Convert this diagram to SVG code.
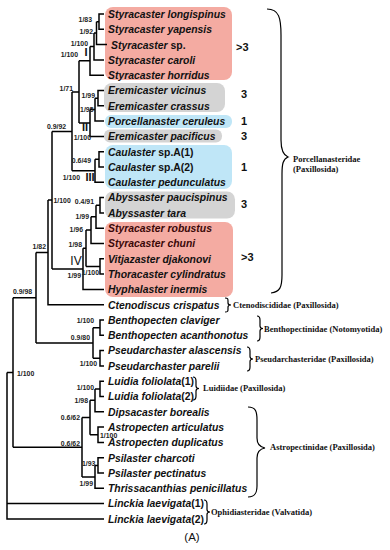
<svg xmlns="http://www.w3.org/2000/svg" width="390" height="550" viewBox="0 0 390 550">
<style>
.tx{font-family:"Liberation Sans",Arial,sans-serif;font-size:10.4px;font-weight:bold;font-style:italic;fill:#111}
.up{font-style:normal}
.sl{font-family:"Liberation Sans",Arial,sans-serif;font-size:6.9px;font-weight:bold;fill:#222}
.e{text-anchor:end}
.rn{font-family:"Liberation Sans",Arial,sans-serif;font-size:11px;font-weight:bold;fill:#111;text-anchor:middle}
.num{font-family:"Liberation Sans",Arial,sans-serif;font-size:11px;font-weight:bold;fill:#111}
.fam{font-family:"Liberation Serif","Times New Roman",serif;font-size:8.5px;font-weight:bold;fill:#111}
.ln{fill:none;stroke:#000;stroke-width:1.5}
.br{fill:none;stroke:#000;stroke-width:1.2}
.pk{fill:#F4ABA2}.gy{fill:#D4D4D4}.bl{fill:#BFE6F7}
</style>
<rect width="390" height="550" fill="#fff"/>
<g id="boxes">
<rect class="pk" x="105" y="7" width="127" height="73" rx="8"/>
<rect class="gy" x="104" y="83" width="121" height="29" rx="8"/>
<rect class="bl" x="105" y="115" width="127" height="13" rx="6"/>
<rect class="gy" x="104" y="129.5" width="118" height="13" rx="6"/>
<rect class="bl" x="105" y="145" width="127" height="44" rx="8"/>
<rect class="gy" x="105" y="191.5" width="130" height="27" rx="8"/>
<rect class="pk" x="105" y="222" width="128" height="75" rx="8"/>
</g>
<g id="connectors">
<path class="ln" d="M104,14 H99 V29.3 H104 M96.5,21.7 H99 M96.5,21.7 V44.6 H107 M94,33.1 H96.5 M94,33.1 V59.9 H104 M90,46.5 H94 M90,46.5 V75.2 H104 M79,60.8 H90
M104,90.5 H98 V105.8 H104 M95,98.2 H98 M95,98.2 V121.1 H104 M90,109.6 H95 M90,109.6 V136.4 H104 M79,123 H90 M79,60.8 V123 M72,91.9 H79
M104,151.7 H99 V167 H104 M95,159.3 H99 M95,159.3 V182.3 H104 M72,170.8 H95 M72,91.9 V170.8 M52,131.4 H72
M104,197.6 H100 V212.9 H104 M96,205.3 H100 M96,205.3 V228.2 H104 M91,216.7 H96 M91,216.7 V243.5 H104 M86,230.1 H91
M104,258.8 H100 V274.1 H104 M86,266.5 H100 M86,230.1 V266.5 M83,248.3 H86 M83,248.3 V289.4 H104 M52,268.9 H83
M52,131.4 V268.9 M48,200.1 H52 M48,200.1 V304.7 H104 M36,252.4 H48
M104,320 H100 V335.3 H104 M93,327.7 H100 M104,350.6 H100 V365.9 H104 M93,358.3 H100 M93,327.7 V358.3 M36,343 H93
M36,252.4 V343 M13,297.7 H36
M104,381.2 H100 V396.5 H104 M95,388.9 H100 M95,388.9 V411.8 H104 M90,400.3 H95
M104,427.1 H98 V442.4 H104 M90,434.8 H98 M90,400.3 V434.8 M82,417.6 H90
M104,457.7 H98 V473 H104 M95,465.4 H98 M95,465.4 V488.3 H104 M82,476.9 H95
M82,417.6 V476.9 M13,447.2 H82 M13,297.7 V447.2 M7,372.5 H13
M7,372.5 V518.9 H104 M7,503.6 H104"/>
</g>
<g id="support-labels">
<text class="sl e" x="92" y="21.5">1/83</text>
<text class="sl e" x="93" y="33.5">1/92</text>
<text class="sl e" x="88" y="45.5">1/100</text>
<text class="sl e" x="78" y="56.5">1/100</text>
<text class="sl e" x="73" y="90.5">1/71</text>
<text class="sl e" x="95" y="97.5">1/99</text>
<text class="sl e" x="93.5" y="111.5">1/95</text>
<text class="sl e" x="91" y="139.5">1/100</text>
<text class="sl" x="47" y="128.5">0.9/92</text>
<text class="sl e" x="91" y="162.5">0.6/49</text>
<text class="sl e" x="80" y="179.5">1/100</text>
<text class="sl" x="53.5" y="202.5">1/100</text>
<text class="sl e" x="94" y="203.5">0.4/91</text>
<text class="sl e" x="89" y="218.5">1/99</text>
<text class="sl e" x="83" y="231.5">1/96</text>
<text class="sl e" x="82" y="246.5">1/98</text>
<text class="sl e" x="99" y="274.5">1/100</text>
<text class="sl e" x="81" y="277.5">1/99</text>
<text class="sl e" x="46" y="248.5">1/82</text>
<text class="sl" x="13" y="293.5">0.9/98</text>
<text class="sl e" x="94" y="322.5">1/100</text>
<text class="sl e" x="90" y="339.5">0.9/80</text>
<text class="sl e" x="97" y="365.5">1/100</text>
<text class="sl" x="17" y="375.5">1/100</text>
<text class="sl e" x="94" y="389.5">1/100</text>
<text class="sl e" x="88" y="402.5">1/98</text>
<text class="sl e" x="80" y="419.5">0.6/62</text>
<text class="sl" x="100" y="437.5">1/100</text>
<text class="sl e" x="80" y="445.5">0.6/62</text>
<text class="sl" x="82" y="465.5">1/93</text>
<text class="sl e" x="93" y="485.5">1/99</text>
<text class="rn" x="86" y="56">I</text>
<text class="rn" x="85" y="131">II</text>
<text class="rn" x="90" y="181">III</text>
<text class="rn" x="76" y="265" style="font-size:12px;font-weight:normal">IV</text>
</g>
<g id="taxa">
<text class="tx" x="108" y="17.8">Styracaster longispinus</text>
<text class="tx" x="108" y="33.1">Styracaster yapensis</text>
<text class="tx" x="111" y="49">Styracaster <tspan class="up">sp.</tspan></text>
<text class="tx" x="108" y="63.7">Styracaster caroli</text>
<text class="tx" x="108" y="79">Styracaster horridus</text>
<text class="tx" x="108" y="94.3">Eremicaster vicinus</text>
<text class="tx" x="108" y="109.6">Eremicaster crassus</text>
<text class="tx" x="108" y="124.9">Porcellanaster ceruleus</text>
<text class="tx" x="108" y="140.2">Eremicaster pacificus</text>
<text class="tx" x="108" y="155.5">Caulaster <tspan class="up">sp.A(1)</tspan></text>
<text class="tx" x="108" y="170.8">Caulaster <tspan class="up">sp.A(2)</tspan></text>
<text class="tx" x="108" y="186.1">Caulaster pedunculatus</text>
<text class="tx" x="108" y="201.4">Abyssaster paucispinus</text>
<text class="tx" x="108" y="216.7">Abyssaster tara</text>
<text class="tx" x="108" y="232" style="fill:#3a0808">Styracaster robustus</text>
<text class="tx" x="108" y="247.3" style="fill:#3a0808">Styracaster chuni</text>
<text class="tx" x="108" y="262.6">Vitjazaster djakonovi</text>
<text class="tx" x="108" y="277.9">Thoracaster cylindratus</text>
<text class="tx" x="108" y="293.2">Hyphalaster inermis</text>
<text class="tx" x="108" y="308.5">Ctenodiscus crispatus</text>
<text class="tx" x="108" y="323.8">Benthopecten claviger</text>
<text class="tx" x="108" y="339.1">Benthopecten acanthonotus</text>
<text class="tx" x="108" y="354.4">Pseudarchaster alascensis</text>
<text class="tx" x="108" y="369.7">Pseudarchaster parelii</text>
<text class="tx" x="108" y="385">Luidia foliolata<tspan class="up">(1)</tspan></text>
<text class="tx" x="108" y="400.3">Luidia foliolata<tspan class="up">(2)</tspan></text>
<text class="tx" x="108" y="415.6">Dipsacaster borealis</text>
<text class="tx" x="108" y="430.9">Astropecten articulatus</text>
<text class="tx" x="108" y="446.2">Astropecten duplicatus</text>
<text class="tx" x="108" y="461.5">Psilaster charcoti</text>
<text class="tx" x="108" y="476.8">Psilaster pectinatus</text>
<text class="tx" x="108" y="492.1">Thrissacanthias penicillatus</text>
<text class="tx" x="108" y="507.4">Linckia laevigata<tspan class="up">(1)</tspan></text>
<text class="tx" x="108" y="522.7">Linckia laevigata<tspan class="up">(2)</tspan></text>
</g>
<g id="counts">
<text class="num" x="236" y="51">&gt;3</text>
<text class="num" x="241" y="98">3</text>
<text class="num" x="241" y="125">1</text>
<text class="num" x="241" y="140">3</text>
<text class="num" x="241" y="171">1</text>
<text class="num" x="241" y="208">3</text>
<text class="num" x="241" y="261">&gt;3</text>
</g>
<g id="families">
<path class="br" d="M267,9 C279,9 281,18 281,35 L281,140 C281,150 283,155 288,157 C283,159 282,164 282,174 L282,275 C282,287 280,292 271,293"/>
<text class="fam" x="293" y="162">Porcellanasteridae</text>
<text class="fam" x="293" y="172">(Paxillosida)</text>
<path class="br" d="M225,298 C228,298 228,299 228,301 L228,303 C228,304.5 229,305 231,305 C229,305 228,305.5 228,307 L228,309 C228,311 228,312 225,312"/>
<text class="fam" x="233" y="308">Ctenodiscididae (Paxillosida)</text>
<path class="br" d="M257,316 C260,316 260,318 260,320 L260,326 C260,328 261,328.5 263,328.5 C261,328.5 260,329 260,331 L260,337 C260,339 260,341 257,341"/>
<text class="fam" x="264" y="331.5">Benthopectinidae (Notomyotida)</text>
<path class="br" d="M247,347 C250,347 250,349 250,351 L250,356.5 C250,358.5 251,359 253,359 C251,359 250,359.5 250,361.5 L250,367 C250,369 250,371 247,371"/>
<text class="fam" x="255" y="361.5">Pseudarchasteridae (Paxillosida)</text>
<path class="br" d="M193,377 C196,377 196,379 196,381 L196,386 C196,388 197,388.5 199,388.5 C197,388.5 196,389 196,391 L196,396 C196,398 196,400 193,400"/>
<text class="fam" x="203" y="391">Luidiidae (Paxillosida)</text>
<path class="br" d="M248,407 C256,407 257,412 257,420 L257,438 C257,444 259,447 265,448 C259,449 257,452 257,458 L257,486 C257,493 255,497 248,497"/>
<text class="fam" x="270" y="450">Astropectinidae (Paxillosida)</text>
<path class="br" d="M204,500 C207,500 207,502 207,504 L207,509.5 C207,511.5 208,512 210,512 C208,512 207,512.5 207,514.5 L207,520 C207,522 207,524 204,524"/>
<text class="fam" x="211" y="515">Ophidiasteridae (Valvatida)</text>
</g>
<text x="192" y="541" text-anchor="middle" style="font-family:'Liberation Sans',Arial,sans-serif;font-size:11.5px;fill:#111">(A)</text>
</svg>
